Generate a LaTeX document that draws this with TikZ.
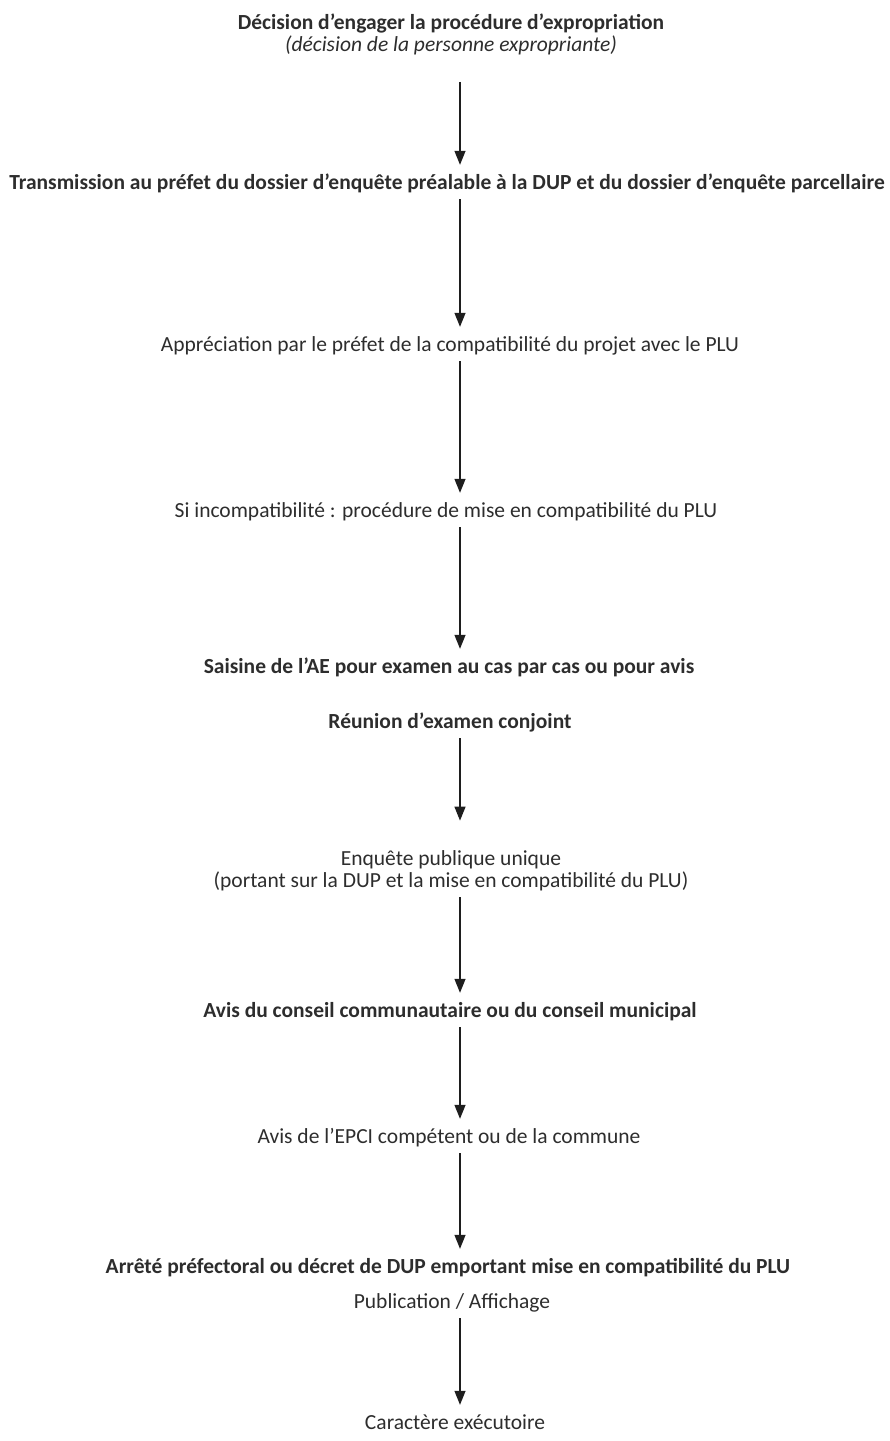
\documentclass[tikz,border=0pt]{standalone}
\usepackage{fontspec}
\setmainfont{Carlito}
\usepackage{xcolor}
\usetikzlibrary{arrows.meta,positioning,calc}
\definecolor{flowtext}{RGB}{45,45,45}
\definecolor{flowline}{RGB}{30,30,30}

\begin{document}
\begin{tikzpicture}[x=1pt, y=1pt,
    etapedeux/.style={inner sep=0pt, text=flowtext, align=center,
        font=\fontsize{21.5}{22}\selectfont},
    etape/.style={etapedeux, text height=14pt, text depth=4pt},
    etapegras/.style={etape, font=\fontsize{21.5}{22}\selectfont\bfseries},
    arr/.style={-{Triangle[length=14pt, width=11pt]}, line width=1.3pt, flowline,
        shorten <=6pt, shorten >=10pt}
]
    \useasboundingbox (0,0) rectangle (890,-1441);
    \coordinate (ax) at (460,0);

    \node[etapedeux, font=\fontsize{21.5}{22}\selectfont\bfseries] (dec) at (451,-34)
        {D\'ecision d'engager la proc\'edure d'expropriation\\
        {\mdseries\itshape (d\'ecision de la personne expropriante)}};
    \node[etapegras] (trans) at (447,-184) {Transmission au pr\'efet du dossier d'enqu\^ete pr\'ealable \`a la DUP et du dossier d'enqu\^ete parcellaire};
    \node[etape] (appr) at (450,-346) {Appr\'eciation par le pr\'efet de la compatibilit\'e du projet avec le PLU};
    \node[etape] (incomp) at (446,-512) {Si incompatibilit\'e : proc\'edure de mise en compatibilit\'e du PLU};
    \node[etapegras] (saisine) at (449,-668) {Saisine de l'AE pour examen au cas par cas ou pour avis};
    \node[etapegras] (reunion) at (450,-723) {R\'eunion d'examen conjoint};
    \node[etapedeux] (enquete) at (451,-871) {Enqu\^ete publique unique\\
        (portant sur la DUP et la mise en compatibilit\'e du PLU)};
    \node[etapegras] (aviscons) at (450,-1012) {Avis du conseil communautaire ou du conseil municipal};
    \node[etape] (avisepci) at (449,-1138) {Avis de l'EPCI comp\'etent ou de la commune};
    \node[etapegras] (arrete) at (448,-1268) {Arr\^et\'e pr\'efectoral ou d\'ecret de DUP emportant mise en compatibilit\'e du PLU};
    \node[etape] (publi) at (452,-1303) {Publication / Affichage};
    \node[etape] (carac) at (455,-1424) {Caract\`ere ex\'ecutoire};

    \draw[arr, shorten <=27pt] (dec.south -| ax) -- (trans.north -| ax);
    \draw[arr] (trans.south -| ax) -- (appr.north -| ax);
    \draw[arr] (appr.south -| ax) -- (incomp.north -| ax);
    \draw[arr] (incomp.south -| ax) -- (saisine.north -| ax);
    \draw[arr, shorten >=30pt] (reunion.south -| ax) -- (enquete.north -| ax);
    \draw[arr] (enquete.south -| ax) -- (aviscons.north -| ax);
    \draw[arr] (aviscons.south -| ax) -- (avisepci.north -| ax);
    \draw[arr] (avisepci.south -| ax) -- (arrete.north -| ax);
    \draw[arr] (publi.south -| ax) -- (carac.north -| ax);
\end{tikzpicture}
\end{document}
